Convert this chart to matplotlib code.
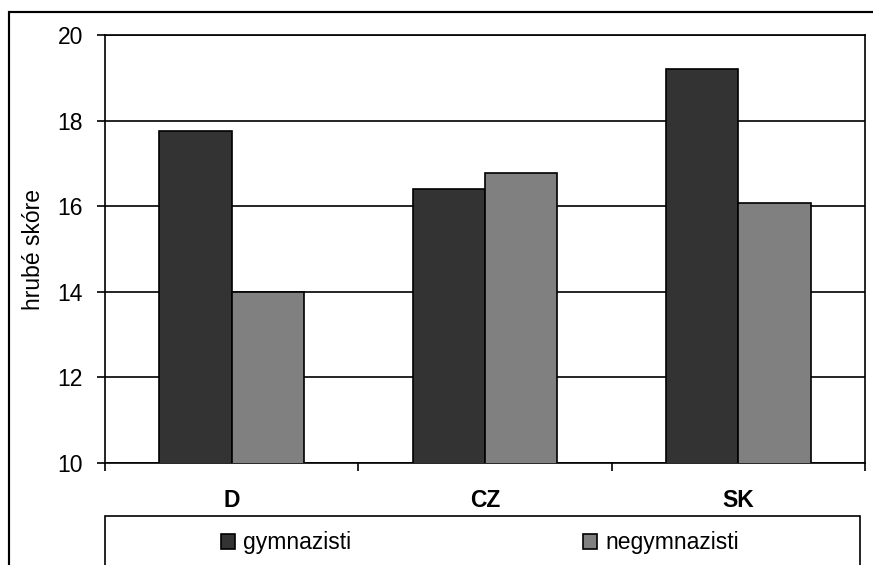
import matplotlib
matplotlib.use("Agg")
import matplotlib.pyplot as plt
from matplotlib.patches import Rectangle
import numpy as np

plt.rcParams['font.family'] = ['Liberation Sans', 'DejaVu Sans']

categories = ['D', 'CZ', 'SK']
gymnazisti = [17.76, 16.40, 19.21]
negymnazisti = [14.00, 16.77, 16.08]
series_names = ['gymnazisti', 'negymnazisti']
yticks = [10, 12, 14, 16, 18, 20]

fs = 16.5
lw = 1.2

fig = plt.figure(figsize=(8.73, 5.65), dpi=100)
ax = fig.add_axes([105/873, 102/565, 760/873, 428/565])

x = np.arange(len(categories))
w = 1 / 3.5
ax.bar(x - w/2, gymnazisti, width=w, bottom=0, color='#333333', edgecolor='black',
       linewidth=lw, label=series_names[0], zorder=3)
ax.bar(x + w/2, negymnazisti, width=w, bottom=0, color='#808080', edgecolor='black',
       linewidth=lw, label=series_names[1], zorder=3)

ax.set_xlim(-0.5, len(categories) - 0.5)
ax.set_ylim(10, 20)
ax.set_yticks(yticks)
ax.tick_params(axis='y', labelsize=fs, length=6, width=lw, pad=10, direction='out')
ax.yaxis.grid(True, color='black', linewidth=lw, zorder=0)
ax.set_axisbelow(True)

# category labels in the middle, tick marks on the boundaries
ax.set_xticks(x)
ax.set_xticklabels(categories, fontsize=fs, fontweight='bold')
ax.tick_params(axis='x', which='major', length=0, pad=19)
ax.set_xticks(np.arange(-0.5, len(categories)), minor=True)
ax.tick_params(axis='x', which='minor', length=6, width=lw, direction='out')

for s in ax.spines.values():
    s.set_linewidth(lw)
    s.set_color('black')

fig.text(33/873, 1 - 249/565, 'hrubé skóre', rotation=90, ha='center', va='center', fontsize=fs)

# outer frame and legend box
fig.add_artist(Rectangle((9/873, -0.2), 1.2, 0.2 + 1 - 12/565, transform=fig.transFigure,
                         fill=False, edgecolor='black', linewidth=lw * 1.3))
fig.add_artist(Rectangle((105/873, -0.2), (860 - 105)/873, 0.2 + 1 - 516/565,
                         transform=fig.transFigure, fill=False, edgecolor='black', linewidth=lw))

fig.legend(loc='center', bbox_to_anchor=(480/873, 1 - 543/565), ncol=2, frameon=False,
           fontsize=fs, handlelength=0.61, handleheight=0.65, handletextpad=0.35,
           columnspacing=10.1, borderpad=0, borderaxespad=0)

fig.savefig('out.png', dpi=100)
